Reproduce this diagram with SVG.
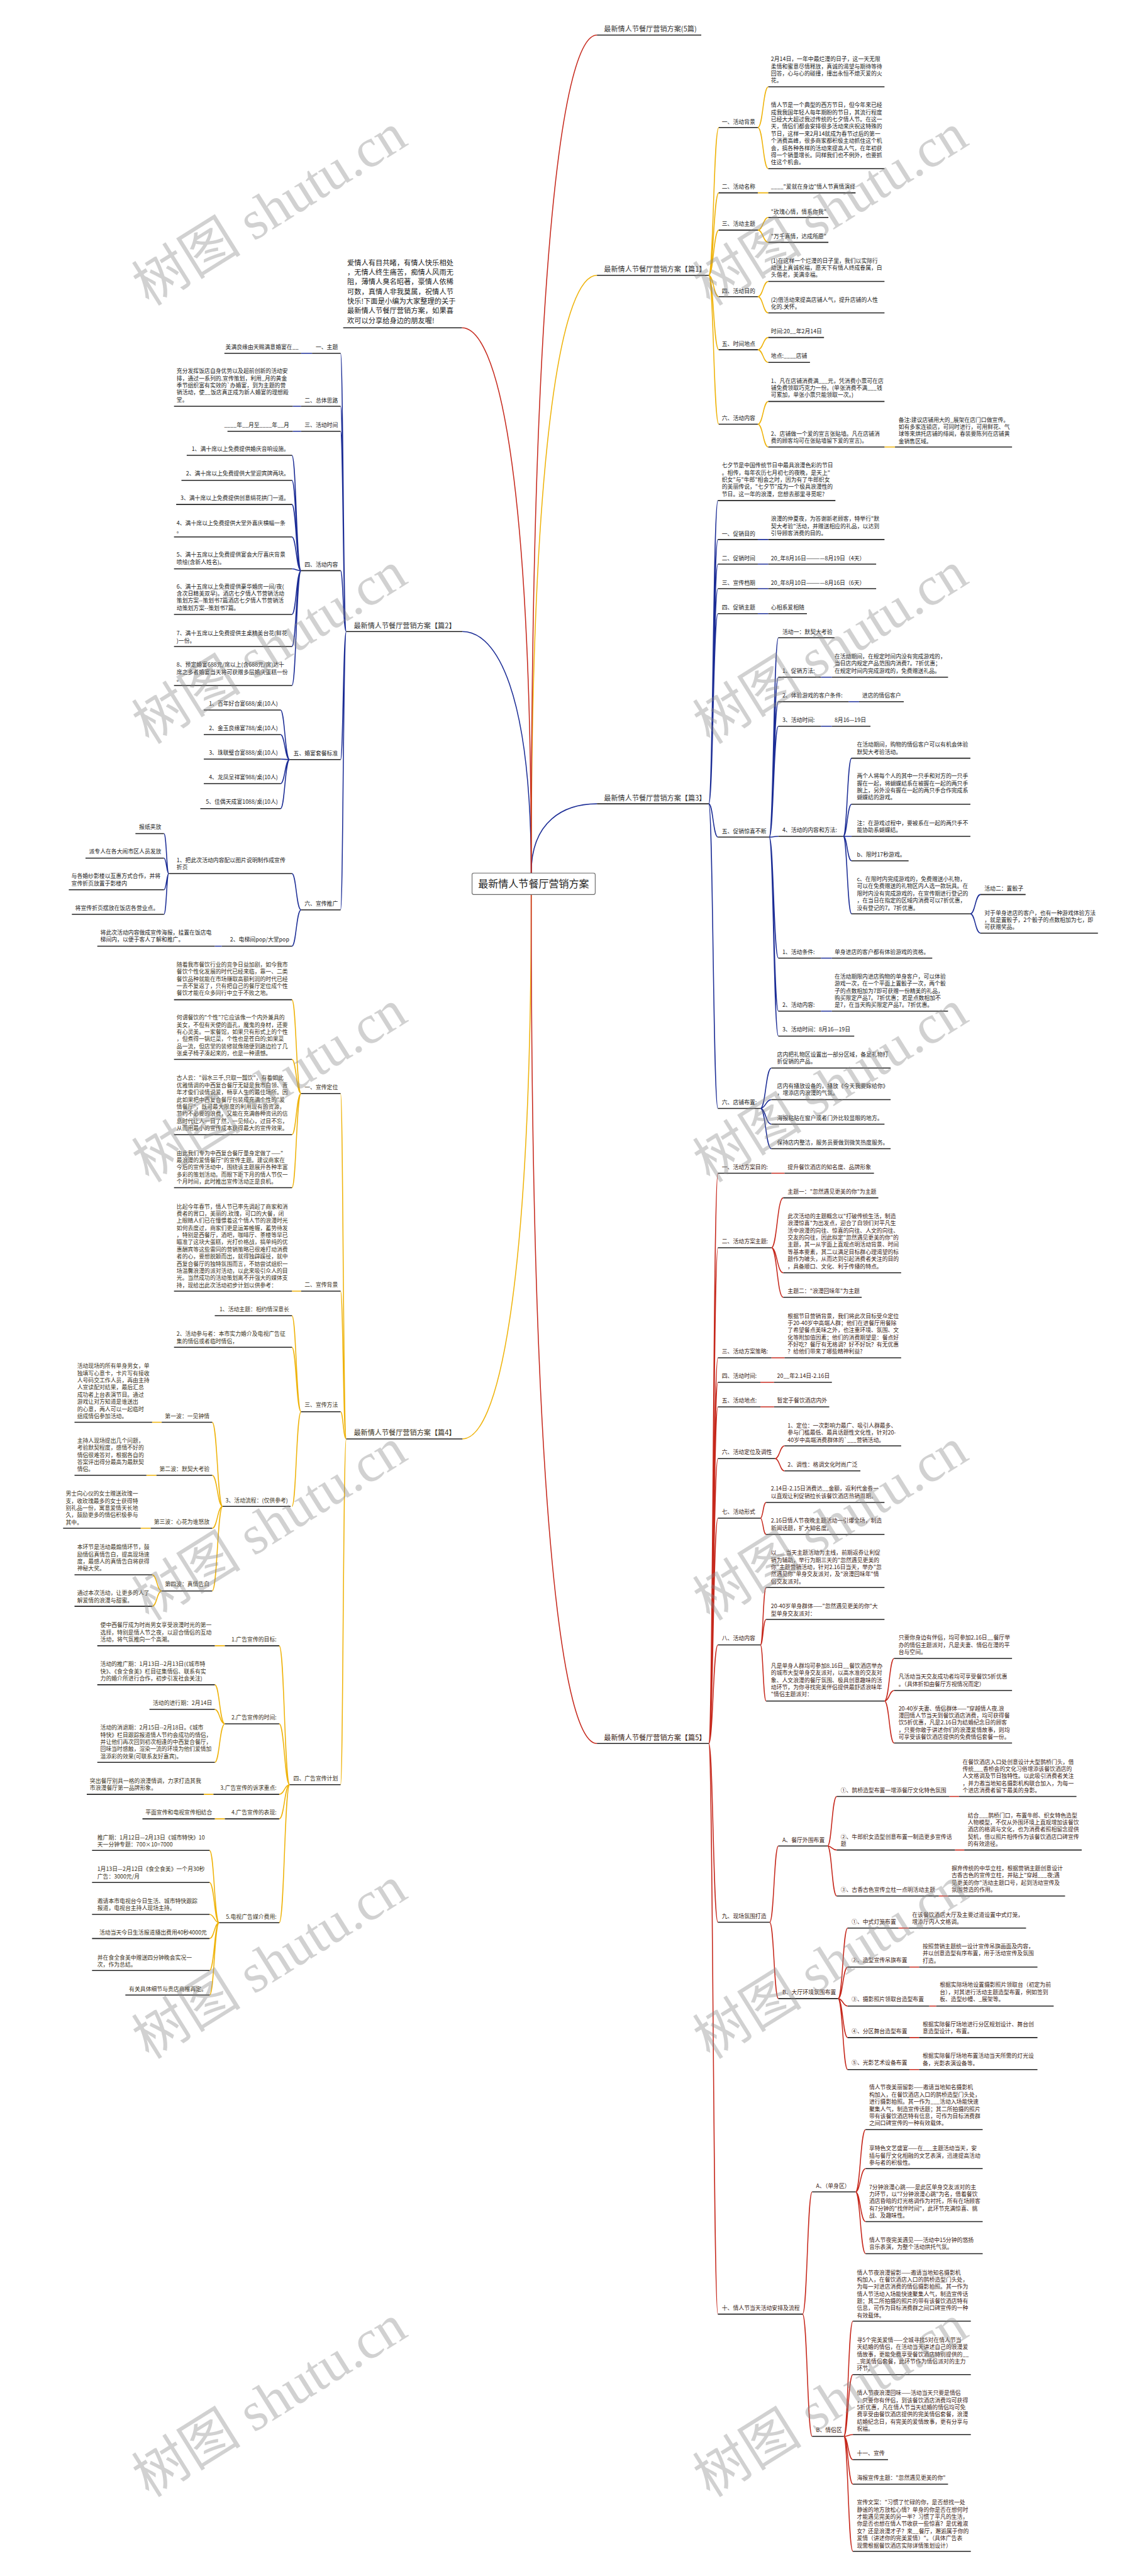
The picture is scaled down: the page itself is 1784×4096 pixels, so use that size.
<svg xmlns="http://www.w3.org/2000/svg" width="1784" height="4096" viewBox="0 0 1784 4096">
<style>
.t{font-family:"Noto Sans CJK SC","Noto Sans",sans-serif;font-size:12.7px;fill:#222}
.lb{font-size:16px;fill:#333}
.rt{font-size:23px;fill:#222}
.in{font-size:16.2px;fill:#222}
.e{text-anchor:end}
.r5 .t{fill:#3b1c14}
.y4 .t{fill:#3a321a}
.u{stroke:#222;stroke-width:2.2;fill:none}
.cy{stroke:#efb30a;stroke-width:2.2;fill:none}
.cb{stroke:#1c2d96;stroke-width:2.2;fill:none}
.cr{stroke:#c6281c;stroke-width:2.2;fill:none}
.wm{font-family:"Liberation Serif","Noto Sans CJK SC",serif;font-size:125px;fill:#888;opacity:.38}
</style>
<rect width="1784" height="4096" fill="#fff"/>
<g transform="scale(0.6969)">
<g id="connectors">
<g class="cy">
<path d="M1212 1992C1212 969 1287 628 1362 628"/>
<path d="M1617 628C1628 628 1628 291 1640 291M1617 628C1628 628 1628 440 1640 440M1617 628C1628 628 1628 525 1640 525M1617 628C1628 628 1628 677 1640 677M1617 628C1628 628 1628 798 1640 798M1617 628C1628 628 1628 968 1640 968"/>
<path d="M1729 291C1741 291 1741 198 1753 198M1729 291C1741 291 1741 385 1753 385M1729 440H1753M1729 525C1741 525 1741 496 1753 496M1729 525C1741 525 1741 553 1753 553M1729 677C1741 677 1741 642 1753 642M1729 677C1741 677 1741 714 1753 714M1729 798C1741 798 1741 770 1753 770M1729 798C1741 798 1741 827 1753 827M1729 968C1741 968 1741 916 1753 916M1729 968C1741 968 1741 1020 1753 1020M2018 1020H2042"/>
<path d="M1212 2041C1212 2972 1133 3283 1055 3283"/>
<path d="M790 3283C783 3283 783 2495 777 2495M790 3283C783 3283 783 2946 777 2946M790 3283C783 3283 783 3221 777 3221M790 3283C783 3283 783 4072 777 4072"/>
<path d="M687 2495C676 2495 676 2281 666 2281M687 2495C676 2495 676 2417 666 2417M687 2495C676 2495 676 2589 666 2589M687 2495C676 2495 676 2710 666 2710M687 2946H666"/>
<path d="M687 3221C676 3221 676 3002 666 3002M687 3221C676 3221 676 3074 666 3074M687 3221C676 3221 676 3437 666 3437"/>
<path d="M508 3437C496 3437 496 3245 484 3245M508 3437C496 3437 496 3366 484 3366M508 3437C496 3437 496 3487 484 3487M508 3437C496 3437 496 3630 484 3630"/>
<path d="M369 3245H347M357 3366H334M344 3487H321M369 3630C358 3630 358 3593 347 3593M369 3630C358 3630 358 3665 347 3665"/>
<path d="M661 4072C649 4072 649 3755 637 3755M661 4072C649 4072 649 3933 637 3933M661 4072C649 4072 649 4094 637 4094M661 4072C649 4072 649 4150 637 4150M661 4072C649 4072 649 4387 637 4387"/>
<path d="M513 3755H490M513 3933C501 3933 501 3844 490 3844M513 3933C501 3933 501 3900 490 3900M513 3933C501 3933 501 4021 490 4021M487 4094H465M513 4150H490"/>
<path d="M500 4387C489 4387 489 4222 478 4222M500 4387C489 4387 489 4295 478 4295M500 4387C489 4387 489 4368 478 4368M500 4387C489 4387 489 4423 478 4423M500 4387C489 4387 489 4496 478 4496M500 4387C489 4387 489 4552 478 4552"/>
</g>
<g class="cb">
<path d="M1212 1992C1212 1873 1287 1834 1362 1834"/>
<path d="M1617 1834C1627 1834 1627 1142 1638 1142M1617 1834C1627 1834 1627 1231 1638 1231M1617 1834C1627 1834 1627 1287 1638 1287M1617 1834C1627 1834 1627 1343 1638 1343M1617 1834C1627 1834 1627 1400 1638 1400M1617 1834C1627 1834 1627 1910 1638 1910M1617 1834C1627 1834 1627 2529 1638 2529"/>
<path d="M1729 1231H1753M1729 1287H1753M1729 1343H1753M1729 1400H1753"/>
<path d="M1755 1910C1765 1910 1765 1455 1776 1455M1755 1910C1765 1910 1765 1545 1776 1545M1755 1910C1765 1910 1765 1601 1776 1601M1755 1910C1765 1910 1765 1657 1776 1657M1755 1910C1765 1910 1765 1908 1776 1908M1755 1910C1765 1910 1765 2186 1776 2186M1755 1910C1765 1910 1765 2307 1776 2307M1755 1910C1765 1910 1765 2364 1776 2364"/>
<path d="M1873 1545H1898M1936 1601H1960M1873 1657H1898M1873 2186H1898M1873 2307H1898"/>
<path d="M1924 1908C1933 1908 1933 1730 1943 1730M1924 1908C1933 1908 1933 1835 1943 1835M1924 1908H1943M1924 1908C1933 1908 1933 1964 1943 1964M1924 1908C1933 1908 1933 2085 1943 2085"/>
<path d="M2214 2085C2225 2085 2225 2041 2237 2041M2214 2085C2225 2085 2225 2129 2237 2129"/>
<path d="M1735 2529C1747 2529 1747 2437 1760 2437M1735 2529C1747 2529 1747 2509 1760 2509M1735 2529C1747 2529 1747 2565 1760 2565M1735 2529C1747 2529 1747 2621 1760 2621"/>
<path d="M1212 1992C1212 1579 1133 1441 1055 1441"/>
<path d="M790 1441C783 1441 783 806 777 806M790 1441C783 1441 783 927 777 927M790 1441C783 1441 783 984 777 984M790 1441C783 1441 783 1302 777 1302M790 1441C783 1441 783 1733 777 1733M790 1441C783 1441 783 2076 777 2076"/>
<path d="M712 806H687M687 927H668M687 984H668"/>
<path d="M687 1302C676 1302 676 1039 666 1039M687 1302C676 1302 676 1096 666 1096M687 1302C676 1302 676 1151 666 1151M687 1302C676 1302 676 1225 666 1225M687 1302C676 1302 676 1298 666 1298M687 1302C676 1302 676 1402 666 1402M687 1302C676 1302 676 1475 666 1475M687 1302C676 1302 676 1564 666 1564"/>
<path d="M661 1733C650 1733 650 1620 640 1620M661 1733C650 1733 650 1676 640 1676M661 1733C650 1733 650 1732 640 1732M661 1733C650 1733 650 1788 640 1788M661 1733C650 1733 650 1845 640 1845"/>
<path d="M687 2076C676 2076 676 1993 666 1993M687 2076C676 2076 676 2159 666 2159M506 2159H490"/>
<path d="M385 1993C380 1993 380 1902 374 1902M385 1993C380 1993 380 1958 374 1958M385 1993C380 1993 380 2030 374 2030M385 1993C380 1993 380 2086 374 2086"/>
</g>
<g class="cr">
<path d="M1212 1992C1212 1059 1133 748 1054 748"/>
<path d="M1212 1992C1212 558 1287 80 1362 80"/>
<path d="M1212 2041C1212 3494 1287 3978 1362 3978"/>
<path d="M1617 3978C1627 3978 1627 2677 1638 2677M1617 3978C1627 3978 1627 2847 1638 2847M1617 3978C1627 3978 1627 3098 1638 3098M1617 3978C1627 3978 1627 3154 1638 3154M1617 3978C1627 3978 1627 3210 1638 3210M1617 3978C1627 3978 1627 3328 1638 3328M1617 3978C1627 3978 1627 3464 1638 3464M1617 3978C1627 3978 1627 3753 1638 3753M1617 3978C1627 3978 1627 4386 1638 4386M1617 3978C1627 3978 1627 5280 1638 5280"/>
<path d="M1760 2677H1790M1760 2847C1773 2847 1773 2733 1787 2733M1760 2847C1773 2847 1773 2904 1787 2904M1760 2847C1773 2847 1773 2960 1787 2960M1760 3098H1790M1735 3154H1766M1735 3210H1766"/>
<path d="M1768 3328C1779 3328 1779 3299 1790 3299M1768 3328C1779 3328 1779 3356 1790 3356M1735 3464C1741 3464 1741 3428 1748 3428M1735 3464C1741 3464 1741 3501 1748 3501"/>
<path d="M1735 3753C1741 3753 1741 3622 1748 3622M1735 3753C1741 3753 1741 3695 1748 3695M1735 3753C1741 3753 1741 3881 1748 3881"/>
<path d="M2018 3881C2029 3881 2029 3784 2040 3784M2018 3881C2029 3881 2029 3857 2040 3857M2018 3881C2029 3881 2029 3977 2040 3977"/>
<path d="M1756 4386C1766 4386 1766 4212 1776 4212M1756 4386C1766 4386 1766 4560 1776 4560"/>
<path d="M1888 4212C1898 4212 1898 4099 1909 4099M1888 4212C1898 4212 1898 4221 1909 4221M1888 4212C1898 4212 1898 4326 1909 4326M2166 4099H2188M2179 4221H2200M2142 4326H2163"/>
<path d="M1912 4560C1923 4560 1923 4399 1934 4399M1912 4560C1923 4560 1923 4488 1934 4488M1912 4560C1923 4560 1923 4577 1934 4577M1912 4560C1923 4560 1923 4649 1934 4649M1912 4560C1923 4560 1923 4722 1934 4722"/>
<path d="M2050 4399H2073M2075 4488H2097M2120 4577H2136M2075 4649H2097M2075 4722H2097"/>
<path d="M1831 5280C1842 5280 1842 5001 1853 5001M1831 5280C1842 5280 1842 5559 1853 5559"/>
<path d="M1952 5001C1963 5001 1963 4859 1975 4859M1952 5001C1963 5001 1963 4948 1975 4948M1952 5001C1963 5001 1963 5069 1975 5069M1952 5001C1963 5001 1963 5142 1975 5142"/>
<path d="M1925 5559C1935 5559 1935 5296 1946 5296M1925 5559C1935 5559 1935 5418 1946 5418M1925 5559C1935 5559 1935 5555 1946 5555M1925 5559C1935 5559 1935 5612 1946 5612M1925 5559C1935 5559 1935 5668 1946 5668M1925 5559C1935 5559 1935 5821 1946 5821"/>
</g>
</g>

<g id="root"><rect x="1077" y="1992" width="281" height="49" rx="4" fill="#fff" stroke="#666" stroke-width="1.6"/><text class="t rt" x="1091" y="2025">最新情人节餐厅营销方案</text></g>

<g id="intro"><text class="t in"><tspan x="792" y="605">爱情人有目共睹，有情人快乐相处</tspan><tspan x="792" y="627">，无情人终生痛苦，痴情人风雨无</tspan><tspan x="792" y="649">阻，薄情人臭名昭著，豪情人依稀</tspan><tspan x="792" y="671">可数，真情人非我莫属，祝情人节</tspan><tspan x="792" y="693">快乐!下面是小编为大家整理的关于</tspan><tspan x="792" y="715">最新情人节餐厅营销方案，如果喜</tspan><tspan x="792" y="737">欢可以分享给身边的朋友喔!</tspan></text><path class="u" d="M783 748H1054"/></g>

<g id="label-5"><text class="t lb" x="1378" y="72">最新情人节餐厅营销方案(5篇)</text><path class="u" d="M1362 80H1600"/></g>

<g id="p1">
<g id="p1-label"><text class="t lb" x="1378" y="620">最新情人节餐厅营销方案【篇1】</text><path class="u" d="M1362 628H1617"/></g>
<g id="p1-1"><text class="t" x="1647" y="282">一、活动背景</text><path class="u" d="M1640 291H1729"/></g>
<g id="p1-1a"><text class="t"><tspan x="1759" y="139.5">2月14日，一年中最烂漫的日子，这一天无限</tspan><tspan x="1759" y="155.8">柔情和蜜意尽情释放，真诚的渴望与期待等待</tspan><tspan x="1759" y="172.1">回答，心与心的碰撞，撞出永恒不熄灭爱的火</tspan><tspan x="1759" y="188.4">花。</tspan></text><path class="u" d="M1753 198H2018"/></g>
<g id="p1-1b"><text class="t"><tspan x="1759" y="244.5">情人节是一个典型的西方节日，但今年来已经</tspan><tspan x="1759" y="260.8">成我我国年轻人每年期盼的节日，其流行程度</tspan><tspan x="1759" y="277.1">已经大大超过我过传统的七夕情人节。在这一</tspan><tspan x="1759" y="293.4">天，情侣们都会安排很多活动来庆祝这特殊的</tspan><tspan x="1759" y="309.7">节日，这样一来2月14就成为春节过后的第一</tspan><tspan x="1759" y="326">个消费高峰，很多商家都积极主动抓住这个机</tspan><tspan x="1759" y="342.3">会，搞各种各样的活动来提高人气，在年初获</tspan><tspan x="1759" y="358.6">得一个销量增长。同样我们也不例外，也要抓</tspan><tspan x="1759" y="374.9">住这个机会。</tspan></text><path class="u" d="M1753 385H2018"/></g>
<g id="p1-2"><text class="t" x="1647" y="431">二、活动名称</text><path class="u" d="M1640 440H1729"/></g>
<g id="p1-2a"><text class="t" x="1759" y="431">____"爱就在身边"情人节真情演绎</text><path class="u" d="M1753 440H1952"/></g>
<g id="p1-3"><text class="t" x="1647" y="515">三、活动主题</text><path class="u" d="M1640 525H1729"/></g>
<g id="p1-3a"><text class="t" x="1759" y="488">"玫瑰心情，情系你我"</text><path class="u" d="M1753 496H1890"/></g>
<g id="p1-3b"><text class="t" x="1759" y="544">"万千真情，达成所愿"</text><path class="u" d="M1753 553H1890"/></g>
<g id="p1-4"><text class="t" x="1647" y="668">四、活动目的</text><path class="u" d="M1640 677H1729"/></g>
<g id="p1-4a"><text class="t"><tspan x="1759" y="599.5">(1)在这样一个烂漫的日子里，我们以实际行</tspan><tspan x="1759" y="615.8">动送上真诚祝福，愿天下有情人终成眷属，白</tspan><tspan x="1759" y="632.1">头偕老，美满幸福。</tspan></text><path class="u" d="M1753 642H2018"/></g>
<g id="p1-4b"><text class="t"><tspan x="1759" y="688.5">(2)借活动来提高店铺人气，提升店铺的人性</tspan><tspan x="1759" y="704.8">化的.关怀。</tspan></text><path class="u" d="M1753 714H2018"/></g>
<g id="p1-5"><text class="t" x="1647" y="789">五、时间地点</text><path class="u" d="M1640 798H1729"/></g>
<g id="p1-5a"><text class="t" x="1759" y="761">时间:20__年2月14日</text><path class="u" d="M1753 770H1880"/></g>
<g id="p1-5b"><text class="t" x="1759" y="817">地点:____店铺</text><path class="u" d="M1753 827H1848"/></g>
<g id="p1-6"><text class="t" x="1647" y="958">六、活动内容</text><path class="u" d="M1640 968H1729"/></g>
<g id="p1-6a"><text class="t"><tspan x="1759" y="873.5">1、凡在店铺消费满___元，凭消费小票可在店</tspan><tspan x="1759" y="889.8">铺免费领取巧克力一份。(单张消费不满___钱</tspan><tspan x="1759" y="906.1">可累加，单张小票只能领取一次。)</tspan></text><path class="u" d="M1753 916H2018"/></g>
<g id="p1-6b"><text class="t"><tspan x="1759" y="994.5">2、店铺做一个爱的宣言张贴墙。凡在店铺消</tspan><tspan x="1759" y="1010.8">费的顾客均可在张贴墙留下爱的宣言)。</tspan></text><path class="u" d="M1753 1020H2018"/></g>
<g id="p1-6b1"><text class="t"><tspan x="2050" y="962.5">备注:建议店铺用大的_展架在店门口做宣传。</tspan><tspan x="2050" y="978.8">如有多家连锁店，可同时进行，可用鲜花、气</tspan><tspan x="2050" y="995.1">球等来烘托店铺的绯闻，春装要陈列在店铺黄</tspan><tspan x="2050" y="1011.4">金销售区域。</tspan></text><path class="u" d="M2042 1020H2309"/></g>
</g>

<g id="p3">
<g id="p3-label"><text class="t lb" x="1378" y="1826">最新情人节餐厅营销方案【篇3】</text><path class="u" d="M1362 1834H1617"/></g>
<g id="p3-0"><text class="t"><tspan x="1647" y="1066.5">七夕节是中国传统节日中最具浪漫色彩的节日</tspan><tspan x="1647" y="1082.8">。相传，每年农历七月初七的夜晚，是天上"</tspan><tspan x="1647" y="1099.1">织女"与"牛郎"相会之时，因为有了牛郎织女</tspan><tspan x="1647" y="1115.4">的美丽传说，"七夕节"成为一个极具浪漫性的</tspan><tspan x="1647" y="1131.7">节日。这一年的浪漫，您想去那里寻觅呢?</tspan></text><path class="u" d="M1638 1142H1906"/></g>
<g id="p3-1"><text class="t" x="1647" y="1222">一、促销目的</text><path class="u" d="M1638 1231H1729"/></g>
<g id="p3-1a"><text class="t"><tspan x="1759" y="1188.5">浪漫的仲夏夜，为答谢新老顾客，特举行"默</tspan><tspan x="1759" y="1204.8">契大考验"活动，并赠送相应的礼品，以达到</tspan><tspan x="1759" y="1221.1">引导顾客消费的目的。</tspan></text><path class="u" d="M1753 1231H2018"/></g>
<g id="p3-2"><text class="t" x="1647" y="1278">二、促销时间</text><path class="u" d="M1638 1287H1729"/></g>
<g id="p3-2a"><text class="t" x="1759" y="1278">20_年8月16日————8月19日（4天）</text><path class="u" d="M1753 1287H1999"/></g>
<g id="p3-3"><text class="t" x="1647" y="1334">三、宣传档期</text><path class="u" d="M1638 1343H1729"/></g>
<g id="p3-3a"><text class="t" x="1759" y="1334">20_年8月10日————8月16日（6天）</text><path class="u" d="M1753 1343H1999"/></g>
<g id="p3-4"><text class="t" x="1647" y="1390">四、促销主题</text><path class="u" d="M1638 1400H1729"/></g>
<g id="p3-4a"><text class="t" x="1759" y="1390">心相系爱相随</text><path class="u" d="M1753 1400H1841"/></g>
<g id="p3-5"><text class="t" x="1647" y="1901">五、促销惊喜不断</text><path class="u" d="M1638 1910H1755"/></g>
<g id="p3-5a"><text class="t" x="1785" y="1446">活动一：默契大考验</text><path class="u" d="M1776 1455H1904"/></g>
<g id="p3-5b"><text class="t" x="1785" y="1535">1、促销方法:</text><path class="u" d="M1776 1545H1873"/></g>
<g id="p3-5b1"><text class="t"><tspan x="1904" y="1502.5">在活动期间，在规定时间内没有完成游戏的，</tspan><tspan x="1904" y="1518.8">当日店内规定产品范围内消费7。7折优惠；</tspan><tspan x="1904" y="1535.1">在规定时间内完成游戏的，免费赠送礼品。</tspan></text><path class="u" d="M1898 1545H2163"/></g>
<g id="p3-5c"><text class="t" x="1785" y="1592">2、体验游戏的客户条件:</text><path class="u" d="M1776 1601H1936"/></g>
<g id="p3-5c1"><text class="t" x="1967" y="1592">进店的情侣客户</text><path class="u" d="M1960 1601H2062"/></g>
<g id="p3-5d"><text class="t" x="1785" y="1648">3、活动时间:</text><path class="u" d="M1776 1657H1873"/></g>
<g id="p3-5d1"><text class="t" x="1904" y="1648">8月16—19日</text><path class="u" d="M1898 1657H1986"/></g>
<g id="p3-5e"><text class="t" x="1785" y="1898">4、活动的内容和方法:</text><path class="u" d="M1776 1908H1924"/></g>
<g id="p3-5e1"><text class="t"><tspan x="1955" y="1703.5">在活动期间，购物的情侣客户可以有机会体验</tspan><tspan x="1955" y="1719.8">默契大考验活动。</tspan></text><path class="u" d="M1943 1730H2214"/></g>
<g id="p3-5e2"><text class="t"><tspan x="1955" y="1775.5">两个人将每个人的其中一只手和对方的一只手</tspan><tspan x="1955" y="1791.8">握在一起，将蝴蝶结系在被握在一起的两只手</tspan><tspan x="1955" y="1808.1">腕上，另外没有握在一起的两只手合作完成系</tspan><tspan x="1955" y="1824.4">蝴蝶结的游戏。</tspan></text><path class="u" d="M1943 1835H2214"/></g>
<g id="p3-5e3"><text class="t"><tspan x="1955" y="1882.5">注：在游戏过程中，要被系在一起的两只手不</tspan><tspan x="1955" y="1898.8">能协助系蝴蝶结。</tspan></text><path class="u" d="M1943 1908H2214"/></g>
<g id="p3-5e4"><text class="t" x="1955" y="1954.5">b、限时17秒游戏。</text><path class="u" d="M1943 1964H2073"/></g>
<g id="p3-5e5"><text class="t"><tspan x="1955" y="2010.5">c、在限时内完成游戏的，免费赠送小礼物，</tspan><tspan x="1955" y="2026.8">可以在免费赠送的礼物区内人选一款玩具。在</tspan><tspan x="1955" y="2043.1">限时内没有完成游戏的，在宣传期进行登记的</tspan><tspan x="1955" y="2059.4">，在当日在指定的区域内消费可以7折优惠，</tspan><tspan x="1955" y="2075.7">没有登记的7。7折优惠。</tspan></text><path class="u" d="M1943 2085H2214"/></g>
<g id="p3-5e5a"><text class="t" x="2246" y="2031.5">活动二：置骰子</text><path class="u" d="M2237 2041H2340"/></g>
<g id="p3-5e5b"><text class="t"><tspan x="2246" y="2087.5">对于单身进店的客户，也有一种游戏体验方法</tspan><tspan x="2246" y="2103.8">，就是置骰子，2个骰子的点数相加为七，即</tspan><tspan x="2246" y="2120.1">可获赠奖品。</tspan></text><path class="u" d="M2237 2129H2505"/></g>
<g id="p3-5f"><text class="t" x="1785" y="2176.5">1、活动条件:</text><path class="u" d="M1776 2186H1873"/></g>
<g id="p3-5f1"><text class="t" x="1904" y="2176.5">单身进店的客户都有体验游戏的资格。</text><path class="u" d="M1898 2186H2127"/></g>
<g id="p3-5g"><text class="t" x="1785" y="2297.5">2、活动内容:</text><path class="u" d="M1776 2307H1873"/></g>
<g id="p3-5g1"><text class="t"><tspan x="1904" y="2232.5">在活动期限内进店购物的单身客户，可以体验</tspan><tspan x="1904" y="2248.8">游戏一次，在一个平面上置骰子一次，两个骰</tspan><tspan x="1904" y="2265.1">子的点数相加为7即可获赠一份精美的礼品，</tspan><tspan x="1904" y="2281.4">购买限定产品7。7折优惠；若是点数相加不</tspan><tspan x="1904" y="2297.7">是7，在当天购买限定产品7。7折优惠。</tspan></text><path class="u" d="M1898 2307H2163"/></g>
<g id="p3-5h"><text class="t" x="1785" y="2353.5">3、活动时间：8月16—19日</text><path class="u" d="M1776 2364H1949"/></g>
<g id="p3-6"><text class="t" x="1647" y="2519.5">六、店铺布置:</text><path class="u" d="M1638 2529H1735"/></g>
<g id="p3-6a"><text class="t"><tspan x="1773" y="2410.5">店内把礼物区设置出一部分区域，备足礼物打</tspan><tspan x="1773" y="2426.8">折促销的产品。</tspan></text><path class="u" d="M1760 2437H2032"/></g>
<g id="p3-6b"><text class="t"><tspan x="1773" y="2482.5">店内有播放设备的，播放《今天我要嫁给你》</tspan><tspan x="1773" y="2498.8">，增添店内浪漫的气氛。</tspan></text><path class="u" d="M1760 2509H2032"/></g>
<g id="p3-6c"><text class="t" x="1773" y="2555.5">海报粘贴在窗户或者门外比较显眼的地方。</text><path class="u" d="M1760 2565H2018"/></g>
<g id="p3-6d"><text class="t" x="1773" y="2611.5">保持店内整洁，服务员要做到微笑热度服务。</text><path class="u" d="M1760 2621H2032"/></g>
</g>

<g id="p5" class="r5">
<g id="p5-label"><text class="t lb" x="1378" y="3970">最新情人节餐厅营销方案【篇5】</text><path class="u" d="M1362 3978H1617"/></g>
<g id="p5-1"><text class="t" x="1647" y="2667.5">一、活动方案目的:</text><path class="u" d="M1638 2677H1760"/></g>
<g id="p5-1a"><text class="t" x="1797" y="2667.5">提升餐饮酒店的知名度、品牌形象</text><path class="u" d="M1790 2677H1994"/></g>
<g id="p5-2"><text class="t" x="1647" y="2837.5">二、活动方案主题:</text><path class="u" d="M1638 2847H1760"/></g>
<g id="p5-2a"><text class="t" x="1797" y="2723.5">主题一："忽然遇见更美的你"为主题</text><path class="u" d="M1787 2733H2004"/></g>
<g id="p5-2b"><text class="t"><tspan x="1797" y="2779.5">此次活动的主题概念以"打破传统生活，制造</tspan><tspan x="1797" y="2795.8">浪漫惊喜"为出发点，迎合了白领们对平凡生</tspan><tspan x="1797" y="2812.1">活中浪漫的向往、惊喜的向往、人文的向往、</tspan><tspan x="1797" y="2828.4">交友的向往，因此拟定"忽然遇见更美的你"的</tspan><tspan x="1797" y="2844.7">主题，其一从字面上直观点明活动背景、时间</tspan><tspan x="1797" y="2861">等基本要素，其二以满足目标群心理渴望的标</tspan><tspan x="1797" y="2877.3">题作为噱头，从而达到引起消费者关注的目的</tspan><tspan x="1797" y="2893.6">，具备顺口、文化、利于传播的特点。</tspan></text><path class="u" d="M1787 2904H2056"/></g>
<g id="p5-2c"><text class="t" x="1797" y="2950.5">主题二："浪漫回味年"为主题</text><path class="u" d="M1787 2960H1966"/></g>
<g id="p5-3"><text class="t" x="1647" y="3088.5">三、活动方案策略:</text><path class="u" d="M1638 3098H1760"/></g>
<g id="p5-3a"><text class="t"><tspan x="1797" y="3007">根据节日营销背景，我们将此次目标受众定位</tspan><tspan x="1797" y="3023.3">于20-40岁中高端人群；他们在进餐厅用餐除</tspan><tspan x="1797" y="3039.6">了希望餐点美味之外，也注重环境、氛围、文</tspan><tspan x="1797" y="3055.9">化等附加值因素；他们的消费期望是：餐点好</tspan><tspan x="1797" y="3072.2">不好吃？餐厅有无格调？好不好玩？有无优惠</tspan><tspan x="1797" y="3088.5">？给他们带来了哪些精神利益?</tspan></text><path class="u" d="M1790 3098H2056"/></g>
<g id="p5-4"><text class="t" x="1647" y="3144.5">四、活动时间:</text><path class="u" d="M1638 3154H1735"/></g>
<g id="p5-4a"><text class="t" x="1773" y="3144.5">20__年2.14日-2.16日</text><path class="u" d="M1766 3154H1898"/></g>
<g id="p5-5"><text class="t" x="1647" y="3200.5">五、活动地点:</text><path class="u" d="M1638 3210H1735"/></g>
<g id="p5-5a"><text class="t" x="1773" y="3200.5">暂定于餐饮酒店内外</text><path class="u" d="M1766 3210H1892"/></g>
<g id="p5-6"><text class="t" x="1647" y="3317.5">六、活动定位及调性</text><path class="u" d="M1638 3328H1768"/></g>
<g id="p5-6a"><text class="t"><tspan x="1797" y="3257.5">1、定位：一次影响力最广、吸引人群最多、</tspan><tspan x="1797" y="3273.8">参与门槛最低、最具话题性文化性，针对20-</tspan><tspan x="1797" y="3290.1">40岁中高端消费群体的`___营销活动。</tspan></text><path class="u" d="M1790 3299H2056"/></g>
<g id="p5-6b"><text class="t" x="1797" y="3346.5">2、调性：格调文化时尚广泛</text><path class="u" d="M1790 3356H1963"/></g>
<g id="p5-7"><text class="t" x="1647" y="3454.5">七、活动形式</text><path class="u" d="M1638 3464H1735"/></g>
<g id="p5-7a"><text class="t"><tspan x="1759" y="3401.5">2.14日-2.15日消费达__金额，返利代金券一</tspan><tspan x="1759" y="3417.8">以直观让利促销拉长该餐饮酒店热销周期。</tspan></text><path class="u" d="M1748 3428H2018"/></g>
<g id="p5-7b"><text class="t"><tspan x="1759" y="3474.5">2.16日情人节夜晚主题活动一引爆全场，制造</tspan><tspan x="1759" y="3490.8">新闻话题，扩大知名度。</tspan></text><path class="u" d="M1748 3501H2018"/></g>
<g id="p5-8"><text class="t" x="1647" y="3742.5">八、活动内容</text><path class="u" d="M1638 3753H1735"/></g>
<g id="p5-8a"><text class="t"><tspan x="1759" y="3547.5">以___当天主题活动为主线，前期返券让利促</tspan><tspan x="1759" y="3563.8">销为辅助，举行为期三天的"忽然遇见更美的</tspan><tspan x="1759" y="3580.1">你"主题营销活动，针对2.16日当天，举办"忽</tspan><tspan x="1759" y="3596.4">然遇见你"单身交友派对，及"浪漫回味年"情</tspan><tspan x="1759" y="3612.7">侣交友派对。</tspan></text><path class="u" d="M1748 3622H2018"/></g>
<g id="p5-8b"><text class="t"><tspan x="1759" y="3669.5">20-40岁单身群体——"忽然遇见更美的你"大</tspan><tspan x="1759" y="3685.8">型单身交友派对：</tspan></text><path class="u" d="M1748 3695H2018"/></g>
<g id="p5-8c"><text class="t"><tspan x="1759" y="3805.5">凡是单身人群均可参加8.16日__餐饮酒店举办</tspan><tspan x="1759" y="3821.8">的城市大型单身交友派对，以高水准的交友对</tspan><tspan x="1759" y="3838.1">象、人文浪漫的餐厅氛围、极具创意趣味的活</tspan><tspan x="1759" y="3854.4">动环节，为你寻找完美伴侣提供最舒适浪味年</tspan><tspan x="1759" y="3870.7">"情侣主题派对：</tspan></text><path class="u" d="M1748 3881H2018"/></g>
<g id="p5-8c1"><text class="t"><tspan x="2050" y="3741.5">只要你身边有伴侣，均可参加2.16日__餐厅举</tspan><tspan x="2050" y="3757.8">办的情侣主题派对，凡是夫妻、情侣在漫的平</tspan><tspan x="2050" y="3774.1">台与空间。</tspan></text><path class="u" d="M2040 3784H2309"/></g>
<g id="p5-8c2"><text class="t"><tspan x="2050" y="3830.5">凡活动当天交友成功者均可享受餐饮5折优惠</tspan><tspan x="2050" y="3846.8">。（具体折扣由餐厅方视情况而定）</tspan></text><path class="u" d="M2040 3857H2309"/></g>
<g id="p5-8c3"><text class="t"><tspan x="2050" y="3902.5">20-40岁夫妻、情侣群体——"穿越情人夜.浪</tspan><tspan x="2050" y="3918.8">漫回情人节当天到餐饮酒店消费，均可获得餐</tspan><tspan x="2050" y="3935.1">饮5折优惠，凡是2.16日为结婚纪念日的顾客</tspan><tspan x="2050" y="3951.4">，只要你敢于讲述你们的浪漫爱情故事，则均</tspan><tspan x="2050" y="3967.7">可享受该餐饮酒店提供的免费情侣套餐一份。</tspan></text><path class="u" d="M2040 3977H2309"/></g>
<g id="p5-9"><text class="t" x="1647" y="4376.5">九、现场氛围打造</text><path class="u" d="M1638 4386H1756"/></g>
<g id="p5-9A"><text class="t" x="1785" y="4202.5">A、餐厅外围布置</text><path class="u" d="M1776 4212H1888"/></g>
<g id="p5-9A1"><text class="t" x="1918" y="4089.5">①、鹊桥造型布置一增添餐厅文化特色氛围</text><path class="u" d="M1909 4099H2166"/></g>
<g id="p5-9A1a"><text class="t"><tspan x="2196" y="4024.5">在餐饮酒店入口处创意设计大型鹊桥门头，借</tspan><tspan x="2196" y="4040.8">传统___香桥会的文化习俗增添该餐饮酒店的</tspan><tspan x="2196" y="4057.1">人文格调及节日独特性。以此吸引消费者关注</tspan><tspan x="2196" y="4073.4">，并力邀当地知名摄影机构联合加入，为每一</tspan><tspan x="2196" y="4089.7">个进店消费者留下最美的身影。</tspan></text><path class="u" d="M2188 4099H2456"/></g>
<g id="p5-9A2"><text class="t"><tspan x="1918" y="4195.5">②、牛郎织女造型创意布置一制造更多宣传话</tspan><tspan x="1918" y="4211.8">题</tspan></text><path class="u" d="M1909 4221H2179"/></g>
<g id="p5-9A2a"><text class="t"><tspan x="2208" y="4146.5">结合___鹊桥门口，布置牛郎、织女特色造型</tspan><tspan x="2208" y="4162.8">人物模型，不仅从外围环境上直观增加该餐饮</tspan><tspan x="2208" y="4179.1">酒店的格调与文化，也为消费者照相留念提供</tspan><tspan x="2208" y="4195.4">契机，借以照片相传作为该餐饮酒店口碑宣传</tspan><tspan x="2208" y="4211.7">的有效途径。</tspan></text><path class="u" d="M2200 4221H2468"/></g>
<g id="p5-9A3"><text class="t" x="1918" y="4316.5">③、古香古色宣传立柱一点明活动主题</text><path class="u" d="M1909 4326H2142"/></g>
<g id="p5-9A3a"><text class="t"><tspan x="2171" y="4267.5">摒弃传统的中华立柱，根据营销主题创意设计</tspan><tspan x="2171" y="4283.8">古香古色的宣传立柱，并贴上"穿越___夜;遇</tspan><tspan x="2171" y="4300.1">见更美的你"活动主题口号，起到活动宣传及</tspan><tspan x="2171" y="4316.4">氛围营造的作用。</tspan></text><path class="u" d="M2163 4326H2430"/></g>
<g id="p5-9B"><text class="t" x="1785" y="4550.5">B、大厅环境氛围布置</text><path class="u" d="M1776 4560H1912"/></g>
<g id="p5-9B1"><text class="t" x="1943" y="4389.5">①、中式灯笼布置</text><path class="u" d="M1934 4399H2050"/></g>
<g id="p5-9B1a"><text class="t"><tspan x="2081" y="4373.5">在该餐饮酒店大厅及主要过道设置中式灯笼，</tspan><tspan x="2081" y="4389.8">增添厅内人文格调。</tspan></text><path class="u" d="M2073 4399H2341"/></g>
<g id="p5-9B2"><text class="t" x="1943" y="4477.5">②、造型宣传吊旗布置</text><path class="u" d="M1934 4488H2075"/></g>
<g id="p5-9B2a"><text class="t"><tspan x="2105" y="4445.5">按照营销主题统一设计宣传吊旗画面及内容，</tspan><tspan x="2105" y="4461.8">并以创意造型有序布置，用于活动宣传及氛围</tspan><tspan x="2105" y="4478.1">打造。</tspan></text><path class="u" d="M2097 4488H2367"/></g>
<g id="p5-9B3"><text class="t" x="1943" y="4566.5">③、摄影照片领取台造型布置</text><path class="u" d="M1934 4577H2120"/></g>
<g id="p5-9B3a"><text class="t"><tspan x="2144" y="4533.5">根据实际场地设置摄影照片领取台（初定为前</tspan><tspan x="2144" y="4549.8">台），对其进行活动主题造型布置，例如签到</tspan><tspan x="2144" y="4566.1">板、造型纱幔、_展架等。</tspan></text><path class="u" d="M2136 4577H2404"/></g>
<g id="p5-9B4"><text class="t" x="1943" y="4639.5">④、分区舞台造型布置</text><path class="u" d="M1934 4649H2075"/></g>
<g id="p5-9B4a"><text class="t"><tspan x="2105" y="4623.5">根据实际餐厅场地进行分区规划设计、舞台创</tspan><tspan x="2105" y="4639.8">意造型设计，布置。</tspan></text><path class="u" d="M2097 4649H2367"/></g>
<g id="p5-9B5"><text class="t" x="1943" y="4711.5">⑤、光影艺术设备布置</text><path class="u" d="M1934 4722H2075"/></g>
<g id="p5-9B5a"><text class="t"><tspan x="2105" y="4695.5">根据实际餐厅场地布置活动当天所需的灯光设</tspan><tspan x="2105" y="4711.8">备，光影表演设备等。</tspan></text><path class="u" d="M2097 4722H2367"/></g>
<g id="p5-10"><text class="t" x="1647" y="5270.5">十、情人节当天活动安排及流程</text><path class="u" d="M1638 5280H1831"/></g>
<g id="p5-10A"><text class="t" x="1862" y="4991.5">A、（单身区）</text><path class="u" d="M1853 5001H1952"/></g>
<g id="p5-10A1"><text class="t"><tspan x="1983" y="4767.5">情人节夜美丽留影——邀请当地知名摄影机</tspan><tspan x="1983" y="4783.8">构加入，在餐饮酒店入口的鹊桥造型门头处，</tspan><tspan x="1983" y="4800.1">进行摄影拍照。其一作为___活动入场能快速</tspan><tspan x="1983" y="4816.4">聚集人气，制造宣传话题；其二所拍摄的照片</tspan><tspan x="1983" y="4832.7">带有该餐饮酒店特有信息，可作为目标消费群</tspan><tspan x="1983" y="4849">之间口碑宣传的一种有效载体。</tspan></text><path class="u" d="M1975 4859H2242"/></g>
<g id="p5-10A2"><text class="t"><tspan x="1983" y="4906.5">享特色文艺盛宴——在___主题活动当天，安</tspan><tspan x="1983" y="4922.8">插与餐厅文化相融的文艺表演，迅速提高活动</tspan><tspan x="1983" y="4939.1">参与者的积极性。</tspan></text><path class="u" d="M1975 4948H2242"/></g>
<g id="p5-10A3"><text class="t"><tspan x="1983" y="4994.5">7分钟浪漫心跳——是此区单身交友派对的主</tspan><tspan x="1983" y="5010.8">力环节，以"7分钟浪漫心跳"为名，借着餐饮</tspan><tspan x="1983" y="5027.1">酒店昏暗的灯光格调作为衬托，所有在场顾客</tspan><tspan x="1983" y="5043.4">有7分钟的"找伴时间"，此环节充满惊喜、挑</tspan><tspan x="1983" y="5059.7">战、及趣味性。</tspan></text><path class="u" d="M1975 5069H2242"/></g>
<g id="p5-10A4"><text class="t"><tspan x="1983" y="5115.5">情人节夜完美遇见——活动中15分钟的悠扬</tspan><tspan x="1983" y="5131.8">音乐表演，为整个活动烘托气氛。</tspan></text><path class="u" d="M1975 5142H2242"/></g>
<g id="p5-10B"><text class="t" x="1862" y="5549.5">B、情侣区</text><path class="u" d="M1853 5559H1925"/></g>
<g id="p5-10B1"><text class="t"><tspan x="1955" y="5189.5">情人节夜浪漫留影——邀请当地知名摄影机</tspan><tspan x="1955" y="5205.8">构加入，在餐饮酒店入口的鹊桥造型门头处，</tspan><tspan x="1955" y="5222.1">为每一对进店消费的情侣摄影拍照。其一作为</tspan><tspan x="1955" y="5238.4">情人节活动入场能快速聚集人气，制造宣传话</tspan><tspan x="1955" y="5254.7">题；其二所拍摄的照片的带有该餐饮酒店特有</tspan><tspan x="1955" y="5271">信息，可作为目标消费群之间口碑宣传的一种</tspan><tspan x="1955" y="5287.3">有效载体。</tspan></text><path class="u" d="M1946 5296H2215"/></g>
<g id="p5-10B2"><text class="t"><tspan x="1955" y="5343.5">寻5个完美爱情——全城寻找5对在情人节当</tspan><tspan x="1955" y="5359.8">天结婚的情侣，在活动当天讲述自己的浪漫爱</tspan><tspan x="1955" y="5376.1">情故事，更能免费享受餐饮酒店特别提供的__</tspan><tspan x="1955" y="5392.4">_完美情侣套餐，此环节作为情侣派对的主力</tspan><tspan x="1955" y="5408.7">环节。</tspan></text><path class="u" d="M1946 5418H2215"/></g>
<g id="p5-10B3"><text class="t"><tspan x="1955" y="5464.5">情人节夜浪漫回味——活动当天只要是情侣</tspan><tspan x="1955" y="5480.8">，只要你有伴侣，到该餐饮酒店消费均可获得</tspan><tspan x="1955" y="5497.1">5折优惠，凡在情人节当天结婚的情侣均可免</tspan><tspan x="1955" y="5513.4">费享受由餐饮酒店提供的完美情侣套餐，浪漫</tspan><tspan x="1955" y="5529.7">结婚纪念日，有完美的爱情故事，更有分享与</tspan><tspan x="1955" y="5546">祝福。</tspan></text><path class="u" d="M1946 5555H2215"/></g>
<g id="p5-10B4"><text class="t" x="1955" y="5602.5">十一、宣传</text><path class="u" d="M1946 5612H2026"/></g>
<g id="p5-10B5"><text class="t" x="1955" y="5657.5">海报宣传主题："忽然遇见更美的你"</text><path class="u" d="M1946 5668H2163"/></g>
<g id="p5-10B6"><text class="t"><tspan x="1955" y="5714.5">宣传文案："习惯了忙碌的你，是否想找一处</tspan><tspan x="1955" y="5730.8">静谧的地方放松心情？单身的你是否在想何时</tspan><tspan x="1955" y="5747.1">才能遇见完美的另一半？习惯了平凡的生活，</tspan><tspan x="1955" y="5763.4">你是否也想在情人节收获一些惊喜？是优雅淑</tspan><tspan x="1955" y="5779.7">女？还是浪漫才子？来__餐厅，邂逅属于你的</tspan><tspan x="1955" y="5796">爱情（讲述你的完美爱情）"。（具体广告表</tspan><tspan x="1955" y="5812.3">现需根据餐饮酒店实际详情策划设计）</tspan></text><path class="u" d="M1946 5821H2215"/></g>
</g>

<g id="p2">
<g id="p2-label"><text class="t lb" x="807" y="1433">最新情人节餐厅营销方案【篇2】</text><path class="u" d="M790 1441H1055"/></g>
<g id="p2-1"><text class="t e" x="771" y="797">一、主题</text><path class="u" d="M712 806H777"/></g>
<g id="p2-1a"><text class="t e" x="681" y="797">美满良缘由天赐满意婚宴在__</text><path class="u" d="M512 806H687"/></g>
<g id="p2-2"><text class="t e" x="771" y="918">二、总体思路</text><path class="u" d="M687 927H777"/></g>
<g id="p2-2a"><text class="t"><tspan x="403" y="851.5">充分发挥饭店自身优势以及超前创新的活动安</tspan><tspan x="403" y="867.8">排，通过一系列的.宣传策划，利用_月的黄金</tspan><tspan x="403" y="884.1">季节组织富有实效的`办婚宴，到为主题的营</tspan><tspan x="403" y="900.4">销活动，使__饭店真正成为新人婚宴的理想殿</tspan><tspan x="403" y="916.7">堂。</tspan></text><path class="u" d="M397 927H668"/></g>
<g id="p2-3"><text class="t e" x="771" y="974">三、活动时间</text><path class="u" d="M687 984H777"/></g>
<g id="p2-3a"><text class="t e" x="660" y="974">____年__月至____年__月</text><path class="u" d="M519 984H668"/></g>
<g id="p2-4"><text class="t e" x="771" y="1292.5">四、活动内容</text><path class="u" d="M687 1302H777"/></g>
<g id="p2-4-1"><text class="t e" x="660" y="1029.5">1、满十席以上免费提供婚庆音响设施。</text><path class="u" d="M426 1039H666"/></g>
<g id="p2-4-2"><text class="t e" x="660" y="1085.5">2、满十席以上免费提供大堂迎宾牌两块。</text><path class="u" d="M414 1096H666"/></g>
<g id="p2-4-3"><text class="t e" x="660" y="1141.5">3、满十席以上免费提供创意绢花拱门一道。</text><path class="u" d="M402 1151H666"/></g>
<g id="p2-4-4"><text class="t"><tspan x="403" y="1198.5">4、满十席以上免费提供大堂外喜庆横幅一条</tspan><tspan x="403" y="1214.8">。</tspan></text><path class="u" d="M397 1225H666"/></g>
<g id="p2-4-5"><text class="t"><tspan x="403" y="1270.5">5、满十五席以上免费提供宴会大厅喜庆背景</tspan><tspan x="403" y="1286.8">喷绘(含新人姓名)。</tspan></text><path class="u" d="M397 1298H666"/></g>
<g id="p2-4-6"><text class="t"><tspan x="403" y="1342.5">6、满十五席以上免费提供豪华婚房一间/夜(</tspan><tspan x="403" y="1358.8">含次日精美双早)。酒店七夕情人节营销活动</tspan><tspan x="403" y="1375.1">策划方案--策划书7篇酒店七夕情人节营销活</tspan><tspan x="403" y="1391.4">动策划方案--策划书7篇。</tspan></text><path class="u" d="M397 1402H666"/></g>
<g id="p2-4-7"><text class="t"><tspan x="403" y="1449.5">7、满十五席以上免费提供主桌精美台花(鲜花</tspan><tspan x="403" y="1465.8">)一份。</tspan></text><path class="u" d="M397 1475H666"/></g>
<g id="p2-4-8"><text class="t"><tspan x="403" y="1521.5">8、预定婚宴688元/席以上(含688元/席)达十</tspan><tspan x="403" y="1537.8">席之多者婚宴当天将可获赠多层婚庆蛋糕一份</tspan><tspan x="403" y="1554.1">。</tspan></text><path class="u" d="M397 1564H666"/></g>
<g id="p2-5"><text class="t e" x="771" y="1723.5">五、婚宴套餐标准</text><path class="u" d="M661 1733H777"/></g>
<g id="p2-5-1"><text class="t e" x="634" y="1609.5">1、百年好合宴688/桌(10人)</text><path class="u" d="M465 1620H640"/></g>
<g id="p2-5-2"><text class="t e" x="634" y="1665.5">2、金玉良缘宴788/桌(10人)</text><path class="u" d="M465 1676H640"/></g>
<g id="p2-5-3"><text class="t e" x="634" y="1722.5">3、珠联璧合宴888/桌(10人)</text><path class="u" d="M465 1732H640"/></g>
<g id="p2-5-4"><text class="t e" x="634" y="1778.5">4、龙凤呈祥宴988/桌(10人)</text><path class="u" d="M465 1788H640"/></g>
<g id="p2-5-5"><text class="t e" x="634" y="1834.5">5、佳偶天成宴1088/桌(10人)</text><path class="u" d="M457 1845H640"/></g>
<g id="p2-6"><text class="t e" x="771" y="2066.5">六、宣传推广</text><path class="u" d="M687 2076H777"/></g>
<g id="p2-6-1"><text class="t"><tspan x="403" y="1967.5">1、把此次活动内容配以图片说明制作成宣传</tspan><tspan x="403" y="1983.8">折页</tspan></text><path class="u" d="M385 1993H666"/></g>
<g id="p2-6-1a"><text class="t e" x="368" y="1891.5">报纸夹放</text><path class="u" d="M309 1902H374"/></g>
<g id="p2-6-1b"><text class="t e" x="368" y="1947.5">派专人在各大闹市区人员发放</text><path class="u" d="M195 1958H374"/></g>
<g id="p2-6-1c"><text class="t"><tspan x="163" y="2003.5">与各婚纱影楼以互惠方式合作，并将</tspan><tspan x="163" y="2019.8">宣传折页放置于影楼内</tspan></text><path class="u" d="M157 2030H374"/></g>
<g id="p2-6-1d"><text class="t e" x="362" y="2076.5">将宣传折页摆放在饭店各营业点。</text><path class="u" d="M164 2086H374"/></g>
<g id="p2-6-2"><text class="t e" x="660" y="2148.5">2、电梯间pop/大堂pop</text><path class="u" d="M506 2159H666"/></g>
<g id="p2-6-2a"><text class="t"><tspan x="229" y="2132.5">将此次活动内容做成宣传海报，挂置在饭店电</tspan><tspan x="229" y="2148.8">梯间内，以便于客人了解和推广。</tspan></text><path class="u" d="M222 2159H490"/></g>
</g>

<g id="p4" class="y4">
<g id="p4-label"><text class="t lb" x="807" y="3275">最新情人节餐厅营销方案【篇4】</text><path class="u" d="M790 3283H1055"/></g>
<g id="p4-1"><text class="t e" x="771" y="2485.5">一、宣传定位</text><path class="u" d="M687 2495H777"/></g>
<g id="p4-1a"><text class="t"><tspan x="403" y="2205.5">随着我市餐饮行业的竞争日益加剧，如今我市</tspan><tspan x="403" y="2221.8">餐饮个性化发展的时代已经来临，靠一、二类</tspan><tspan x="403" y="2238.1">餐饮品种就能在市场赚取高额利润的时代已经</tspan><tspan x="403" y="2254.4">一去不复返了，只有把自己的餐厅定位成个性</tspan><tspan x="403" y="2270.7">餐饮才能在众多同行中立于不败之地。</tspan></text><path class="u" d="M397 2281H666"/></g>
<g id="p4-1b"><text class="t"><tspan x="403" y="2326.5">何谓餐饮的"个性"?它应该像一个内外兼具的</tspan><tspan x="403" y="2342.8">美女，不但有天使的面孔，魔鬼的身材，还要</tspan><tspan x="403" y="2359.1">有心灵美。一家餐馆，如果只有形式上的个性</tspan><tspan x="403" y="2375.4">，但煮得一锅烂菜，个性也是苍白的;如果菜</tspan><tspan x="403" y="2391.7">品一流，但店堂的装修就像随便到路边捡了几</tspan><tspan x="403" y="2408">张桌子椅子凑起来的，也是一种遗憾。</tspan></text><path class="u" d="M397 2417H666"/></g>
<g id="p4-1c"><text class="t"><tspan x="403" y="2464.5">古人云："弱水三千,只取一瓢饮"，有着如此</tspan><tspan x="403" y="2480.8">优雅情调的中西复合餐厅无疑是我市白领、青</tspan><tspan x="403" y="2497.1">年才俊们谈情说爱，畅享人生的最佳场所。因</tspan><tspan x="403" y="2513.4">此如果把中西复合餐厅包装成充满个性的"爱</tspan><tspan x="403" y="2529.7">情餐厅"，既可最大限度的利用现有的资源，</tspan><tspan x="403" y="2546">节约不必要的浪费，又能在充满各种资讯的信</tspan><tspan x="403" y="2562.3">息时代让人一目了然，一见倾心，过目不忘，</tspan><tspan x="403" y="2578.6">从而用最小的宣传成本获得最大的宣传效果。</tspan></text><path class="u" d="M397 2589H666"/></g>
<g id="p4-1d"><text class="t"><tspan x="403" y="2635.5">由此我们专为中西复合餐厅量身定做了——"</tspan><tspan x="403" y="2651.8">最浪漫的爱情餐厅"的宣传主题。建议商家在</tspan><tspan x="403" y="2668.1">今后的宣传活动中，围绕该主题展开各种丰富</tspan><tspan x="403" y="2684.4">多彩的策划活动。而眼下距下月的情人节仅一</tspan><tspan x="403" y="2700.7">个月时间，此时推出宣传活动正是良机。</tspan></text><path class="u" d="M397 2710H666"/></g>
<g id="p4-2"><text class="t e" x="771" y="2936.5">二、宣传背景</text><path class="u" d="M687 2946H777"/></g>
<g id="p4-2a"><text class="t"><tspan x="403" y="2757.5">比起今年春节，情人节已率先调起了商家和消</tspan><tspan x="403" y="2773.8">费者的胃口，美丽的.玫瑰，可口的大餐，闭</tspan><tspan x="403" y="2790.1">上眼睛人们已在憧憬着这个情人节的浪漫时光</tspan><tspan x="403" y="2806.4">如何去度过，商家们更是运筹帷幄，蓄势待发</tspan><tspan x="403" y="2822.7">，特别是西餐厅，酒吧，咖啡厅、茶楼等早已</tspan><tspan x="403" y="2839">瞄准了这块大蛋糕，光打价格战，搞单纯的优</tspan><tspan x="403" y="2855.3">惠酬宾等这些雷同的营销策略已很难打动消费</tspan><tspan x="403" y="2871.6">者的心，要想脱颖而出，就得独辟蹊径，就中</tspan><tspan x="403" y="2887.9">西复合餐厅的独特氛围而言，不妨尝试组织一</tspan><tspan x="403" y="2904.2">场温馨浪漫的派对活动，以此来吸引众人的目</tspan><tspan x="403" y="2920.5">光。当然成功的活动策划离不开强大的媒体支</tspan><tspan x="403" y="2936.8">持，现给出此次活动初步计划以供参考：</tspan></text><path class="u" d="M397 2946H666"/></g>
<g id="p4-3"><text class="t e" x="771" y="3210.5">三、宣传方法</text><path class="u" d="M687 3221H777"/></g>
<g id="p4-3-1"><text class="t e" x="660" y="2992.5">1、活动主题：相约情深意长</text><path class="u" d="M490 3002H666"/></g>
<g id="p4-3-2"><text class="t"><tspan x="403" y="3048.5">2、活动参与者：本市实力婚介及电视广告征</tspan><tspan x="403" y="3064.8">集的情侣或者临时情侣，</tspan></text><path class="u" d="M397 3074H666"/></g>
<g id="p4-3-3"><text class="t e" x="657" y="3427.5">3、活动流程：(仅供参考)</text><path class="u" d="M508 3437H663"/></g>
<g id="p4-3-3a"><text class="t e" x="478" y="3235.5">第一波：一见钟情</text><path class="u" d="M369 3245H484"/></g>
<g id="p4-3-3a1"><text class="t"><tspan x="176" y="3121.5">活动现场的所有单身男女，单</tspan><tspan x="176" y="3137.8">独填写心意卡，卡片写有接收</tspan><tspan x="176" y="3154.1">人号码交工作人员，再由主持</tspan><tspan x="176" y="3170.4">人宣读配对结果，最后汇总</tspan><tspan x="176" y="3186.7">成功者上台表演节目。通过</tspan><tspan x="176" y="3203">游戏让对方知道是谁送出</tspan><tspan x="176" y="3219.3">的心意，两人可以一起临时</tspan><tspan x="176" y="3235.6">组成情侣参加活动。</tspan></text><path class="u" d="M170 3245H347"/></g>
<g id="p4-3-3b"><text class="t e" x="478" y="3356.5">第二波：默契大考验</text><path class="u" d="M357 3366H484"/></g>
<g id="p4-3-3b1"><text class="t"><tspan x="176" y="3291.5">主持人现场提出几个问题，</tspan><tspan x="176" y="3307.8">考验默契程度，感情不好的</tspan><tspan x="176" y="3324.1">情侣很难答对，根据各自的</tspan><tspan x="176" y="3340.4">答案评出得分最高为最默契</tspan><tspan x="176" y="3356.7">情侣。</tspan></text><path class="u" d="M170 3366H334"/></g>
<g id="p4-3-3c"><text class="t e" x="478" y="3477.5">第三波：心花为谁怒放</text><path class="u" d="M344 3487H484"/></g>
<g id="p4-3-3c1"><text class="t"><tspan x="150" y="3412.5">男士向心仪的女士赠送玫瑰一</tspan><tspan x="150" y="3428.8">支，收玫瑰最多的女士获得特</tspan><tspan x="150" y="3445.1">别礼品一份，寓意爱情天长地</tspan><tspan x="150" y="3461.4">久，鼓励更多的情侣积极参与</tspan><tspan x="150" y="3477.7">其中。</tspan></text><path class="u" d="M144 3487H321"/></g>
<g id="p4-3-3d"><text class="t e" x="478" y="3619.5">第四波：真情告白</text><path class="u" d="M369 3630H484"/></g>
<g id="p4-3-3d1"><text class="t"><tspan x="176" y="3534.5">本环节是活动最煽情环节，鼓</tspan><tspan x="176" y="3550.8">励情侣真情告白，提高现场速</tspan><tspan x="176" y="3567.1">度，最感人的真情告白将获得</tspan><tspan x="176" y="3583.4">神秘大奖。</tspan></text><path class="u" d="M170 3593H347"/></g>
<g id="p4-3-3d2"><text class="t"><tspan x="176" y="3639.5">通过本次活动，让更多的人了</tspan><tspan x="176" y="3655.8">解爱情的浪漫与甜蜜。</tspan></text><path class="u" d="M170 3665H347"/></g>
<g id="p4-4"><text class="t e" x="771" y="4062.5">四、广告宣传计划</text><path class="u" d="M661 4072H777"/></g>
<g id="p4-4-1"><text class="t e" x="631" y="3744.5">1.广告宣传的目标:</text><path class="u" d="M513 3755H637"/></g>
<g id="p4-4-1a"><text class="t"><tspan x="229" y="3712.5">使中西餐厅成为时尚男女享受浪漫时光的第一</tspan><tspan x="229" y="3728.8">选择，特别是情人节之夜，以迎合情侣的互动</tspan><tspan x="229" y="3745.1">活动，将气氛推向一个高潮。</tspan></text><path class="u" d="M222 3755H490"/></g>
<g id="p4-4-2"><text class="t e" x="631" y="3923.5">2.广告宣传的时间:</text><path class="u" d="M513 3933H637"/></g>
<g id="p4-4-2a"><text class="t"><tspan x="229" y="3801.5">活动的推广期：1月13日--2月13日(《城市特</tspan><tspan x="229" y="3817.8">快》、《食全食美》栏目征集情侣、联系有实</tspan><tspan x="229" y="3834.1">力的婚介所进行合作，初步引发社会关注)</tspan></text><path class="u" d="M222 3844H490"/></g>
<g id="p4-4-2b"><text class="t e" x="484" y="3889.5">活动的进行期：2月14日</text><path class="u" d="M341 3900H490"/></g>
<g id="p4-4-2c"><text class="t"><tspan x="229" y="3946.5">活动的消退期：2月15日--2月18日。《城市</tspan><tspan x="229" y="3962.8">特快》栏目跟踪报道情人节约会成功的情侣，</tspan><tspan x="229" y="3979.1">并让他们再次回到初次相逢的中西复合餐厅，</tspan><tspan x="229" y="3995.4">回味当时感触，渲染一流的环境为他们爱情加</tspan><tspan x="229" y="4011.7">温添彩的效果(可联系友好嘉宾)。</tspan></text><path class="u" d="M222 4021H490"/></g>
<g id="p4-4-3"><text class="t e" x="631" y="4083.5">3.广告宣传的诉求重点:</text><path class="u" d="M487 4094H637"/></g>
<g id="p4-4-3a"><text class="t"><tspan x="205" y="4067.5">突出餐厅别具一格的浪漫情调，力求打造其我</tspan><tspan x="205" y="4083.8">市浪漫餐厅第一品牌形象。</tspan></text><path class="u" d="M198 4094H465"/></g>
<g id="p4-4-4"><text class="t e" x="631" y="4139.5">4.广告宣传的表现:</text><path class="u" d="M513 4150H637"/></g>
<g id="p4-4-4a"><text class="t e" x="484" y="4139.5">平面宣传和电视宣传相结合</text><path class="u" d="M325 4150H490"/></g>
<g id="p4-4-5"><text class="t e" x="631" y="4378.5">5.电视广告媒介费用:</text><path class="u" d="M500 4387H637"/></g>
<g id="p4-4-5a"><text class="t"><tspan x="222" y="4196.5">推广期：1月12日—2月13日《城市特快》10</tspan><tspan x="222" y="4212.8">天一分钟专题：700×10=7000</tspan></text><path class="u" d="M210 4222H478"/></g>
<g id="p4-4-5b"><text class="t"><tspan x="222" y="4269.5">1月13日—2月12日《食全食美》一个月30秒</tspan><tspan x="222" y="4286">广告：3000元/月</tspan></text><path class="u" d="M210 4295H478"/></g>
<g id="p4-4-5c"><text class="t"><tspan x="222" y="4341.5">邀请本市电视台今日生活、城市特快跟踪</tspan><tspan x="222" y="4358">报道，电视台主持人现场主持。</tspan></text><path class="u" d="M210 4368H478"/></g>
<g id="p4-4-5d"><text class="t e" x="472" y="4414.5">活动当天今日生活报道播出费用40秒4000元</text><path class="u" d="M210 4423H478"/></g>
<g id="p4-4-5e"><text class="t"><tspan x="222" y="4471.5">并在食全食美中赠送四分钟晚会实况一</tspan><tspan x="222" y="4487.5">次，作为总结。</tspan></text><path class="u" d="M210 4496H478"/></g>
<g id="p4-4-5f"><text class="t e" x="472" y="4543.5">有关具体细节与贵店商榷再定。</text><path class="u" d="M286 4552H478"/></g>
</g>

<g id="watermarks">
<text class="wm" transform="translate(1620 700) rotate(-32)">树图 shutu.cn</text>
<text class="wm" transform="translate(1620 1700) rotate(-32)">树图 shutu.cn</text>
<text class="wm" transform="translate(1620 2700) rotate(-32)">树图 shutu.cn</text>
<text class="wm" transform="translate(1620 3700) rotate(-32)">树图 shutu.cn</text>
<text class="wm" transform="translate(1620 4700) rotate(-32)">树图 shutu.cn</text>
<text class="wm" transform="translate(1620 5700) rotate(-32)">树图 shutu.cn</text>
<text class="wm" transform="translate(340 700) rotate(-32)">树图 shutu.cn</text>
<text class="wm" transform="translate(340 1700) rotate(-32)">树图 shutu.cn</text>
<text class="wm" transform="translate(340 2700) rotate(-32)">树图 shutu.cn</text>
<text class="wm" transform="translate(340 3700) rotate(-32)">树图 shutu.cn</text>
<text class="wm" transform="translate(340 4700) rotate(-32)">树图 shutu.cn</text>
<text class="wm" transform="translate(340 5700) rotate(-32)">树图 shutu.cn</text>
</g>
</g>
</svg>
